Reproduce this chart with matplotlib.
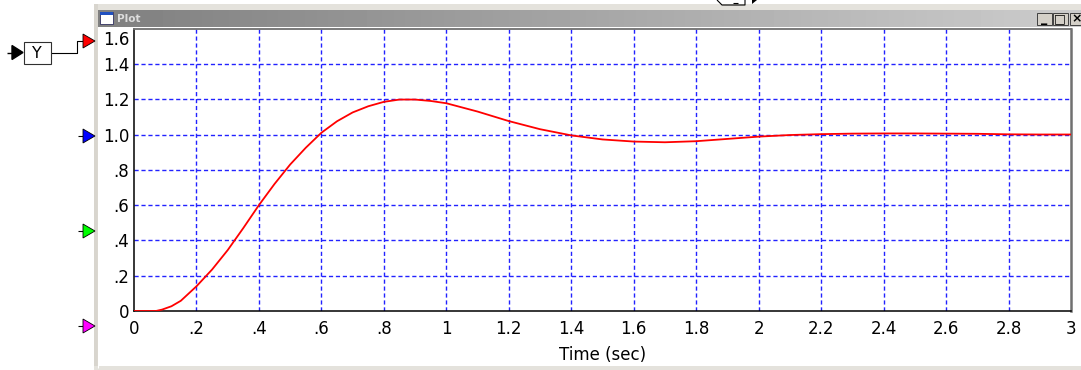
import numpy as np
import matplotlib
matplotlib.use("Agg")
import matplotlib.pyplot as plt
from matplotlib.patches import Rectangle, Polygon
from matplotlib.lines import Line2D

# ---- data ----
time_s = [0.0, 0.07, 0.09, 0.12, 0.15, 0.2, 0.25, 0.3, 0.35, 0.4, 0.45, 0.5,
          0.55, 0.6, 0.65, 0.7, 0.75, 0.8, 0.85, 0.9, 0.95, 1.0, 1.1, 1.2,
          1.3, 1.4, 1.5, 1.6, 1.7, 1.8, 1.9, 2.0, 2.1, 2.2, 2.3, 2.4, 2.5,
          2.6, 2.7, 2.8, 2.9, 3.0]
y_resp = [0.0, 0.0, 0.008, 0.027, 0.058, 0.14, 0.235, 0.345, 0.47, 0.6, 0.72,
          0.83, 0.925, 1.01, 1.075, 1.125, 1.16, 1.185, 1.198, 1.198, 1.19,
          1.177, 1.13, 1.076, 1.03, 0.995, 0.972, 0.96, 0.956, 0.962, 0.975,
          0.988, 0.997, 1.002, 1.005, 1.006, 1.006, 1.005, 1.004, 1.001, 1.0,
          1.0]
x_ticks = [0, 0.2, 0.4, 0.6, 0.8, 1.0, 1.2, 1.4, 1.6, 1.8, 2.0, 2.2, 2.4,
           2.6, 2.8, 3.0]
x_labels = ['0', '.2', '.4', '.6', '.8', '1', '1.2', '1.4', '1.6', '1.8',
            '2', '2.2', '2.4', '2.6', '2.8', '3']
y_ticks = [0, 0.2, 0.4, 0.6, 0.8, 1.0, 1.2, 1.4]
y_labels = ['0', '.2', '.4', '.6', '.8', '1.0', '1.2', '1.4']
y_top_label = '1.6'
x_title = 'Time (sec)'
window_title = 'Plot'
block_name = 'Y'

W, H = 1081, 370
plt.rcParams['font.family'] = ['DejaVu Sans']
fig = plt.figure(figsize=(W / 100, H / 100), dpi=100)
fig.patch.set_facecolor('white')


def fx(x):
    return x / W


def fy(y):
    return 1 - y / H


def pline(xs, ys, color='black', lw=1.0, z=5):
    fig.add_artist(Line2D([fx(v) for v in xs], [fy(v) for v in ys],
                          transform=fig.transFigure, color=color,
                          linewidth=lw, zorder=z, solid_capstyle='butt'))


def prect(x0, y0, x1, y1, fc, ec='none', lw=0.8, z=4):
    fig.add_artist(Rectangle((fx(x0), fy(y1)), (x1 - x0) / W, (y1 - y0) / H,
                             transform=fig.transFigure, facecolor=fc,
                             edgecolor=ec, linewidth=lw, zorder=z))


def ptri(xt, yc, color, half=7, length=12):
    fig.add_artist(Polygon([(fx(xt - length), fy(yc - half)),
                            (fx(xt), fy(yc)),
                            (fx(xt - length), fy(yc + half))],
                           closed=True, transform=fig.transFigure,
                           facecolor=color, edgecolor='black', linewidth=0.6,
                           zorder=6))


# ---- window frame ----
prect(95, 4, 1081, 10, '#e4e2dc', z=3)
prect(94, 4, 98, 370, '#d8d5ce', z=3)
pline([97.5, 97.5], [27, 368], color='white', lw=0.8)
prect(94, 366, 1081, 370, '#e4e2dc', z=3)

# title bar with gradient
tax = fig.add_axes([fx(98), fy(27), (1081 - 98) / W, 17 / H])
grad = np.linspace(0.50, 0.80, 256).reshape(1, -1)
tax.imshow(grad, aspect='auto', cmap='gray', vmin=0, vmax=1,
           extent=[0, 1, 0, 1])
tax.set_axis_off()
fig.text(fx(117), fy(18.5), window_title, color='#dcdcdc', fontsize=7.5,
         fontweight='bold', va='center', ha='left', zorder=8)
# icon
prect(100, 12, 113, 24, 'white', ec='#303060', lw=0.6, z=8)
prect(100, 12, 113, 15, '#2050c0', z=9)
# buttons
for bx0, bx1, sym in [(1036.5, 1051.5, '_'), (1052.5, 1067.5, '□'),
                      (1069.5, 1084, '×')]:
    prect(bx0, 12.5, bx1, 25, '#d4d0c8', ec='#404040', lw=0.7, z=8)
    fig.text(fx((bx0 + bx1) / 2), fy(18.5), sym, fontsize=9,
             ha='center', va='center', color='black', zorder=9,
             fontweight='bold')

# ---- VisSim blocks on the left ----
pline([7, 12], [52.5, 52.5], lw=1.0)
fig.add_artist(Polygon([(fx(12), fy(45.5)), (fx(23), fy(52.5)),
                        (fx(12), fy(59.5))], closed=True,
                       transform=fig.transFigure, facecolor='black',
                       edgecolor='black', zorder=6))
prect(23.5, 42, 50.5, 63.5, 'white', ec='#303030', lw=0.8, z=6)
fig.text(fx(37), fy(53), block_name, fontsize=11.5, ha='center',
         va='center', zorder=7)
pline([50.5, 76.5, 76.5, 83], [53, 53, 41, 41], lw=0.8)
ptri(95, 41, '#ff0000')
for yc, col in [(136, '#0000ff'), (231, '#00ff00'), (326, '#ff00ff')]:
    pline([78, 83], [yc, yc], lw=0.8)
    ptri(95, yc, col)

# small block at top centre
pline([717, 722, 745, 745], [0, 5, 5, 0], lw=0.8)
pline([733, 738], [2.5, 2.5], lw=0.8)
fig.add_artist(Polygon([(fx(752), fy(0)), (fx(757), fy(0)),
                        (fx(752), fy(4))], closed=True,
                       transform=fig.transFigure, facecolor='black',
                       zorder=6))

# ---- plot area ----
ax = fig.add_axes([fx(134), fy(311), (1071 - 134) / W, (311 - 28.6) / H])
ax.set_facecolor('white')
ax.set_xlim(x_ticks[0], x_ticks[-1])
ax.set_ylim(0, 1.6)

grid_kw = dict(color='#2222ff', linewidth=1.0, linestyle=(0, (3, 2)),
               zorder=1)
for xv in x_ticks[1:-1]:
    ax.axvline(xv, **grid_kw)
for yv in y_ticks[1:]:
    ax.axhline(yv, **grid_kw)

ax.plot(time_s, y_resp, color='#ff0000', linewidth=1.3, zorder=3)

ax.set_xticks(x_ticks)
ax.set_xticklabels(x_labels)
ax.set_yticks(y_ticks)
ax.set_yticklabels(y_labels)
ax.tick_params(axis='both', length=0, labelsize=12)
ax.tick_params(axis='x', pad=6.5)
ax.tick_params(axis='y', pad=3.5)
ax.annotate(y_top_label, xy=(0, 1.6), xycoords='data', xytext=(-4.9, -11),
            textcoords='offset pixels', ha='right', va='center',
            fontsize=12, annotation_clip=False)
ax.set_xlabel(x_title, fontsize=12, labelpad=6)

for side in ['left', 'bottom']:
    ax.spines[side].set_color('black')
    ax.spines[side].set_linewidth(1.1)
ax.spines['top'].set_color('#707070')
ax.spines['top'].set_linewidth(1.3)
ax.spines['right'].set_color('#707070')
ax.spines['right'].set_linewidth(1.8)

fig.savefig('out.png', dpi=100, facecolor='white')
